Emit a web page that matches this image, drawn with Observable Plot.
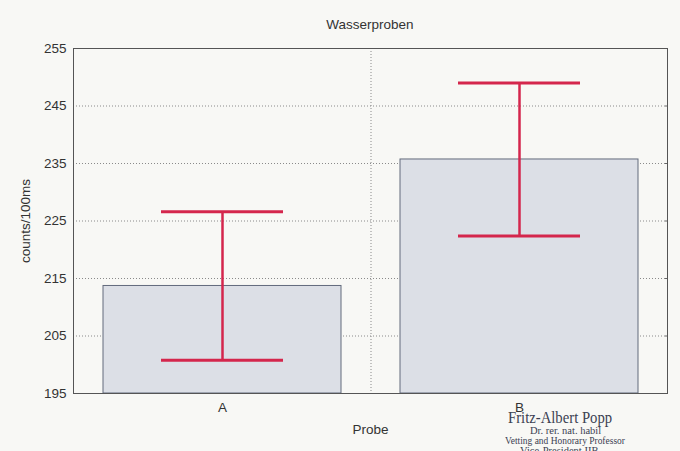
<!DOCTYPE html>
<html>
<head>
<meta charset="utf-8">
<script src="https://cdn.jsdelivr.net/npm/d3@7"></script>
<script src="https://cdn.jsdelivr.net/npm/@observablehq/plot@0.6"></script>
<style>
  html, body { margin: 0; padding: 0; background: #f8f8f5; }
  #wrap { position: relative; width: 680px; height: 451px; overflow: hidden; font-family: "Liberation Sans", Arial, sans-serif; }
  #title { position: absolute; left: 73px; width: 594px; top: 17px; text-align: center; font-size: 13.5px; color: #333; }
  .sig { position: absolute; font-family: "Liberation Serif", "DejaVu Serif", serif; color: #3b4152; white-space: nowrap; transform-origin: left top; }
</style>
</head>
<body>
<div id="wrap">
  <div id="title">Wasserproben</div>
  <div class="sig" style="left:508px; top:407px; font-size:17.5px; transform: scaleX(0.84);">Fritz-Albert Popp</div>
  <div class="sig" style="left:530px; top:425px; font-size:10.5px;">Dr. rer. nat. habil</div>
  <div class="sig" style="left:505px; top:435px; font-size:10.5px; transform: scaleX(0.9);">Vetting and Honorary Professor</div>
  <div class="sig" style="left:520px; top:445px; font-size:10.5px;">Vice-President IIB</div>
</div>
<script>
// Data
const categories = ["A", "B"];
const means = [213.7, 235.7];
const lows = [200.8, 222.4];
const highs = [226.6, 249.0];
const yTicks = [195, 205, 215, 225, 235, 245, 255];
const yMin = 195, yMax = 255;

const rows = categories.map((c, i) => ({probe: c, mean: means[i], low: lows[i], high: highs[i]}));

const chart = Plot.plot({
  width: 680,
  height: 451,
  marginLeft: 73,
  marginRight: 13,
  marginTop: 48,
  marginBottom: 58,
  style: {background: "transparent", fontFamily: "Liberation Sans, Arial, sans-serif", fontSize: "13.5px", color: "#333"},
  x: {domain: categories, paddingInner: 0.2, paddingOuter: 0.1},
  y: {domain: [yMin, yMax]},
  marks: [
    Plot.gridY(yTicks.slice(1, -1), {stroke: "#8a8a8a", strokeOpacity: 1, strokeDasharray: "1,2"}),
    Plot.ruleX(categories.slice(0, 1), {x: d => d, dx: 148.5, stroke: "#8a8a8a", strokeDasharray: "1,2"}),
    Plot.barY(rows, {x: "probe", y1: () => yMin, y2: "mean", fill: "#dcdfe6", stroke: "#626a7c", strokeWidth: 1}),
    Plot.ruleX(rows, {x: "probe", y1: "low", y2: "high", stroke: "#d4264c", strokeWidth: 2.5}),
    Plot.tickY(rows, {x: "probe", y: "low", stroke: "#d4264c", strokeWidth: 3, insetLeft: 58, insetRight: 58}),
    Plot.tickY(rows, {x: "probe", y: "high", stroke: "#d4264c", strokeWidth: 3, insetLeft: 58, insetRight: 58}),
    Plot.axisY(yTicks, {tickSize: 0, tickPadding: 7, fontSize: 13.5, label: "counts/100ms", labelAnchor: "center", labelArrow: "none", labelOffset: 53}),
    Plot.axisY(yTicks, {anchor: "right", tickSize: -3, tickFormat: () => "", label: null, stroke: "#666"}),
    Plot.axisX(categories, {tickSize: 0, tickPadding: 9, fontSize: 13.5, label: "Probe", labelAnchor: "center", labelArrow: "none", labelOffset: 40}),
    Plot.frame({stroke: "#555", strokeWidth: 1})
  ]
});
document.getElementById("wrap").prepend(chart);
chart.style.position = "absolute";
chart.style.left = "0";
chart.style.top = "0";
</script>
</body>
</html>
